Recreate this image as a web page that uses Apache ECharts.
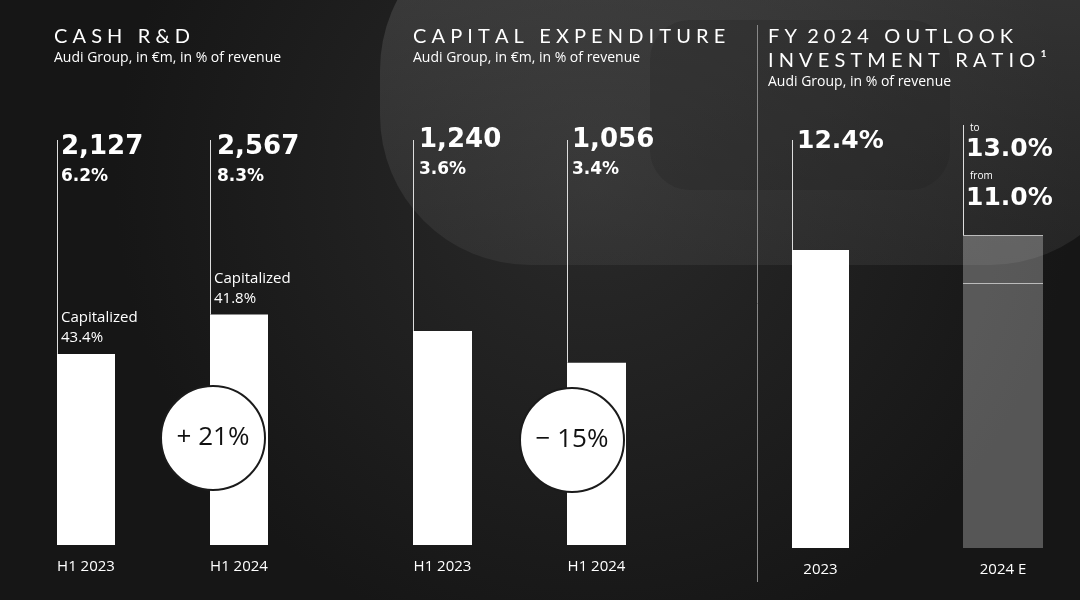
<!DOCTYPE html>
<html><head><meta charset="utf-8">
<script src="https://cdn.jsdelivr.net/npm/echarts@6/dist/echarts.min.js"></script>
<style>html,body{margin:0;background:#1b1b1b}#c{width:1080px;height:600px}</style>
</head><body><div id="c"></div>
<script>
// values
const rdCats = ["H1 2023", "H1 2024"];
const rdValues = [2127, 2567];
const rdShare = ["6.2%", "8.3%"];
const rdCapitalized = ["43.4%", "41.8%"];
const capexCats = ["H1 2023", "H1 2024"];
const capexValues = [1240, 1056];
const capexShare = ["3.6%", "3.4%"];
const ratioCats = ["2023", "2024 E"];
const ratioValues = [12.4, 13.0];
const outlookRange = [11.0, 13.0];

const chart = echarts.init(document.getElementById("c"));
const font = "Lato, 'Open Sans', sans-serif";
const wide = "'DejaVu Sans', sans-serif";

// one grid per bar: [left, category, value, yMax, gridTop, gridHeight, color]
const bars = [
  [57, rdCats[0], rdValues[0], 4955, 100, 445, "#fff"],
  [210, rdCats[1], rdValues[1], 4955, 100, 445, "#fff"],
  [413, capexCats[0], capexValues[0], 2578, 100, 445, "#fff"],
  [567, capexCats[1], capexValues[1], 2578, 100, 445, "#fff"],
  [792, ratioCats[0], ratioValues[0], 18.64, 100, 448, "#fff"],
  [963, ratioCats[1], ratioValues[1], 18.64, 100, 448, "rgba(255,255,255,0.28)"],
];
const widths = [58, 58, 59, 59, 57, 80];

const option = {
  backgroundColor: {
    type: "radial", x: 0.55, y: 0.3, r: 0.8,
    colorStops: [{ offset: 0, color: "#2a2a2a" }, { offset: 1, color: "#161616" }],
  },
  grid: bars.map((b, i) => ({ left: b[0], width: widths[i], top: b[4], height: b[5] })),
  xAxis: bars.map((b, i) => ({
    type: "category", gridIndex: i, data: [b[1]],
    axisLine: { show: false }, axisTick: { show: false },
    axisLabel: { color: "#fff", fontSize: 15, fontFamily: "'Open Sans', sans-serif", margin: 14 },
  })),
  yAxis: bars.map((b, i) => ({ type: "value", gridIndex: i, min: 0, max: b[3], show: false })),
  series: bars.map((b, i) => {
    const s = {
      type: "bar", xAxisIndex: i, yAxisIndex: i, barWidth: "100%",
      data: [b[2]], itemStyle: { color: b[6] }, silent: true,
    };
    if (i === 5) {
      s.markLine = {
        symbol: "none", label: { show: false },
        lineStyle: { color: "#bbb", type: "solid", width: 1 },
        data: outlookRange.map((v) => ({ yAxis: v })),
      };
    }
    return s;
  }),
};
chart.setOption(option);

// guide lines from headline figures down to each bar
const g = [];
const headY = 140;
[0, 1, 2, 3, 4].forEach((i) => {
  const p = chart.convertToPixel({ xAxisIndex: i, yAxisIndex: i }, [0, bars[i][2]]);
  const x = bars[i][0] + 0.5;
  g.push({ type: "line", shape: { x1: x, y1: headY, x2: x, y2: p[1] }, style: { stroke: "#ddd", lineWidth: 1 } });
});
const p5 = chart.convertToPixel({ xAxisIndex: 5, yAxisIndex: 5 }, [0, outlookRange[1]]);
g.push({ type: "line", shape: { x1: 963.5, y1: 125, x2: 963.5, y2: p5[1] }, style: { stroke: "#ddd", lineWidth: 1 } });

// capitalized labels above R&D bars
[0, 1].forEach((i) => {
  const p = chart.convertToPixel({ xAxisIndex: i, yAxisIndex: i }, [0, rdValues[i]]);
  g.push({ type: "text", left: bars[i][0] + 4, top: p[1] - 46,
    style: { text: "Capitalized\n" + rdCapitalized[i], fill: "#fff", font: "15px 'Open Sans', sans-serif", lineHeight: 20 } });
});

const txt = (x, y, t, size, weight, fam) => g.push({ type: "text", left: x, top: y,
  style: { text: t, fill: "#fff", font: (weight || "normal") + " " + size + "px " + (fam || font) } });

// faint car silhouette
g.unshift({ type: "rect", shape: { x: 380, y: -80, width: 760, height: 345, r: 150 },
  style: { fill: { type: "linear", x: 0, y: 0, x2: 0, y2: 1,
    colorStops: [{ offset: 0, color: "rgba(140,140,140,0.28)" }, { offset: 1, color: "rgba(90,90,90,0.22)" }] } }, z: -10 });
g.unshift({ type: "rect", shape: { x: 650, y: 20, width: 300, height: 170, r: 40 },
  style: { fill: "rgba(30,30,30,0.25)" }, z: -9 });

const sub = "'Open Sans', sans-serif";
txt(54, 27, "C A S H   R & D", 20, "normal");
txt(54, 51, "Audi Group, in €m, in % of revenue", 14, "normal", sub);
txt(413, 27, "C A P I T A L   E X P E N D I T U R E", 20, "normal");
txt(413, 51, "Audi Group, in €m, in % of revenue", 14, "normal", sub);
txt(768, 27, "F Y  2 0 2 4   O U T L O O K", 20, "normal");
txt(768, 51, "I N V E S T M E N T   R A T I O ¹", 20, "normal");
txt(768, 75, "Audi Group, in % of revenue", 14, "normal", sub);

txt(61, 134, rdValues[0].toLocaleString("en-US"), 26, "bold", wide);
txt(61, 168, rdShare[0], 17, "bold", wide);
txt(217, 134, rdValues[1].toLocaleString("en-US"), 26, "bold", wide);
txt(217, 168, rdShare[1], 17, "bold", wide);
txt(419, 127, capexValues[0].toLocaleString("en-US"), 26, "bold", wide);
txt(419, 161, capexShare[0], 17, "bold", wide);
txt(572, 127, capexValues[1].toLocaleString("en-US"), 26, "bold", wide);
txt(572, 161, capexShare[1], 17, "bold", wide);
txt(797, 129, ratioValues[0].toFixed(1) + "%", 25, "bold", wide);
txt(970, 123, "to", 10, "normal", sub);
txt(966, 137, outlookRange[1].toFixed(1) + "%", 25, "bold", wide);
txt(970, 171, "from", 10, "normal", sub);
txt(966, 186, outlookRange[0].toFixed(1) + "%", 25, "bold", wide);

// divider
g.push({ type: "line", shape: { x1: 757.5, y1: 25, x2: 757.5, y2: 582 }, style: { stroke: "#888", lineWidth: 1 } });

// change badges
[[213, 438, "+ 21%"], [572, 440, "− 15%"]].forEach((c) => {
  g.push({ type: "circle", z: 100, shape: { cx: c[0], cy: c[1], r: 52 }, style: { fill: "#fff", stroke: "#1b1b1b", lineWidth: 2 } });
  g.push({ type: "text", z: 101, x: c[0], y: c[1], style: { text: c[2], fill: "#111", font: "26px " + sub, align: "center", verticalAlign: "middle" } });
});

chart.setOption({ graphic: g });
</script></body></html>
